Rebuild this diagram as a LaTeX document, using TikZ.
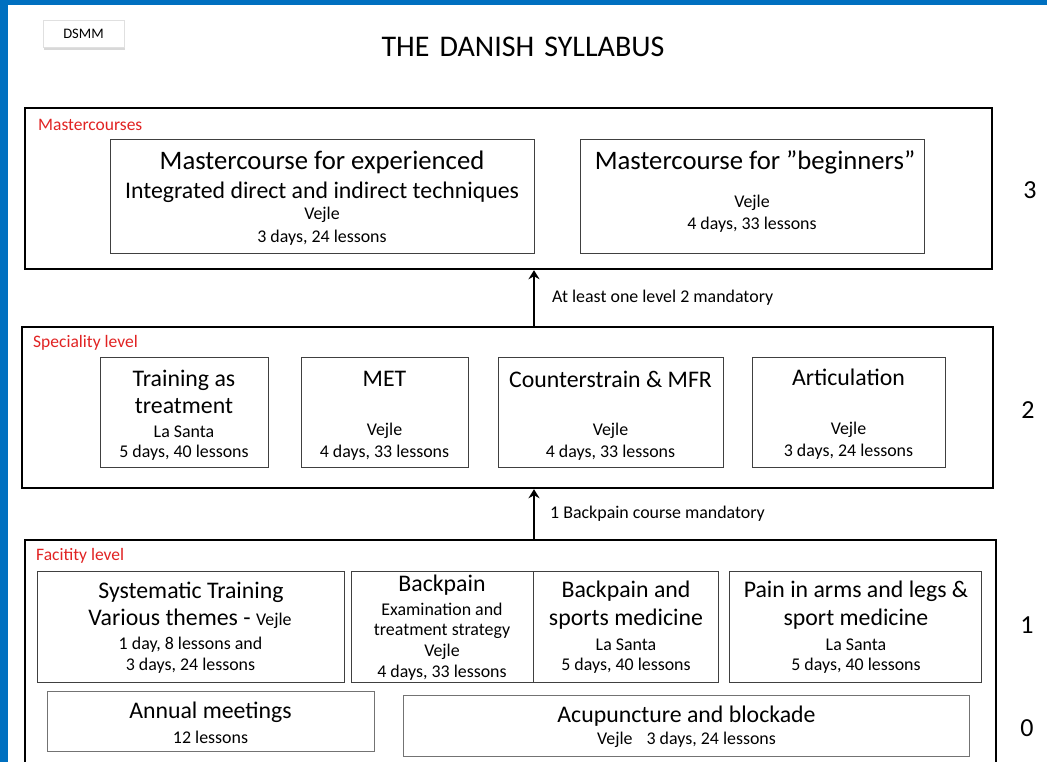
\documentclass[tikz,border=0pt]{standalone}
\usepackage{fontspec}
\setmainfont{Carlito}
\usetikzlibrary{positioning,arrows.meta,shadows}
\definecolor{frameblue}{RGB}{0,112,192}
\definecolor{tagred}{RGB}{225,35,35}
\tikzset{
	level/.style={draw,rectangle,line width=2.4pt,inner sep=0pt},
	course/.style={draw=black!75,rectangle,line width=1pt,inner sep=0pt},
	big/.style={font=\fontsize{26.7}{30}\selectfont,inner sep=0pt},
	mid/.style={font=\fontsize{23.8}{27}\selectfont,inner sep=0pt},
	small/.style={font=\fontsize{17.9}{20}\selectfont,inner sep=0pt},
	tag/.style={text=tagred,font=\fontsize{17.5}{20}\selectfont,anchor=west,inner sep=0pt},
	arr/.style={line width=2.6pt,-{Stealth[length=9pt,width=11pt]}},
}
\newcommand{\smalltext}{\fontsize{17.9}{20}\selectfont}
\begin{document}
\begin{tikzpicture}[x=1pt,y=-1pt]

	\clip (0,0) rectangle (1047,762);
	\fill[white] (0,0) rectangle (1047,762);
	\fill[frameblue] (0,0) rectangle (8,762);
	\fill[frameblue] (0,0) rectangle (1047,5);

	\node (dsmm) at (83.5,33.5) [draw=black!12,fill=white,minimum width=81,minimum height=27,drop shadow={opacity=0.25,fill=black!60,shadow xshift=1pt,shadow yshift=-3pt},font=\fontsize{14.5}{16}\selectfont] {DSMM};
	\node (title) at (523,47) [font=\fontsize{30}{34}\selectfont] {THE\hspace{10pt}DANISH\hspace{10pt}SYLLABUS};

	% level boxes
	\node (l3) at (508.5,188.5) [level,minimum width=967,minimum height=161] {};
	\node (l2) at (507.5,407.5) [level,minimum width=971,minimum height=161] {};
	\node (l1) at (510.5,660) [level,minimum width=971,minimum height=240] {};

	\node (t3) at (38,125) [tag] {Mastercourses};
	\node (t2) at (33,343) [tag] {Speciality level};
	\node (t1) at (36,556) [tag] {Facitity level};

	\begin{scope}[font=\fontsize{26}{29}\selectfont]
		\node (n3) at (1030,190) {3};
		\node (n2) at (1028,410) {2};
		\node (n1) at (1027,625) {1};
		\node (n0) at (1027,728) {0};
	\end{scope}

	% course boxes
	\begin{scope}[every node/.style={course}]
		\node (ma) at (322,197) [minimum width=424,minimum height=114] {};
		\node (mb) at (752,197) [minimum width=344,minimum height=114] {};
		\node (sa) at (184,412) [minimum width=168,minimum height=110] {};
		\node (sb) at (384.5,412) [minimum width=167,minimum height=110] {};
		\node (sc) at (610.5,412) [minimum width=225,minimum height=110] {};
		\node (sd) at (848.5,412) [minimum width=193,minimum height=110] {};
		\node (fa) at (190.5,626.5) [minimum width=307,minimum height=111] {};
		\node (fb) at (442,626.5) [minimum width=182,minimum height=111] {};
		\node (fc) at (625.5,626.5) [minimum width=185,minimum height=111] {};
		\node (fd) at (855,626.5) [minimum width=252,minimum height=111] {};
		\node (za) at (210.5,721) [draw=black!55,minimum width=327,minimum height=60] {};
		\node (zb) at (686,725.5) [draw=black!55,minimum width=566,minimum height=61] {};
	\end{scope}

	% texts
	\node (ma1) at (322,162) [big] {Mastercourse for experienced};
	\node (ma2) at (322,192) [mid] {Integrated direct and indirect techniques};
	\node (ma3) at (322,215) [small] {Vejle};
	\node (ma4) at (322,238) [small] {3 days, 24 lessons};

	\node (mb1) at (755,162) [big] {Mastercourse for ”beginners”};
	\node (mb2) at (752,203) [small] {Vejle};
	\node (mb3) at (752,225) [small] {4 days, 33 lessons};

	\node (sa1) at (184,380) [mid] {Training as};
	\node (sa2) at (184,406) [mid] {treatment};
	\node (sa3) at (184,432) [small] {La Santa};
	\node (sa4) at (184,453) [small] {5 days, 40 lessons};

	\node (sb1) at (384.5,379) [mid] {MET};
	\node (sb2) at (384.5,431) [small] {Vejle};
	\node (sb3) at (384.5,453) [small] {4 days, 33 lessons};

	\node (sc1) at (610.5,379) [mid] {Counterstrain \& MFR};
	\node (sc2) at (610.5,431) [small] {Vejle};
	\node (sc3) at (610.5,453) [small] {4 days, 33 lessons};

	\node (sd1) at (848.5,377) [mid] {Articulation};
	\node (sd2) at (848.5,430) [small] {Vejle};
	\node (sd3) at (848.5,452) [small] {3 days, 24 lessons};

	\node (fa1) at (191,592) [mid] {Systematic Training};
	\node (fa2) at (190,619) [mid] {Various themes - {\smalltext Vejle}};
	\node (fa3) at (190.5,645) [small] {1 day, 8 lessons and};
	\node (fa4) at (190.5,666) [small] {3 days, 24 lessons};

	\node (fb1) at (442,585) [mid] {Backpain};
	\node (fb2) at (442,609) [small] {Examination and};
	\node (fb3) at (442,631) [small] {treatment strategy};
	\node (fb4) at (442,652) [small] {Vejle};
	\node (fb5) at (442,673) [small] {4 days, 33 lessons};

	\node (fc1) at (626,591) [mid] {Backpain and};
	\node (fc2) at (626,619) [mid] {sports medicine};
	\node (fc3) at (626,645) [small] {La Santa};
	\node (fc4) at (626,666) [small] {5 days, 40 lessons};

	\node (fd1) at (856,591) [mid] {Pain in arms and legs \&};
	\node (fd2) at (856,619) [mid] {sport medicine};
	\node (fd3) at (856,645) [small] {La Santa};
	\node (fd4) at (856,666) [small] {5 days, 40 lessons};

	\node (za1) at (210.5,712) [mid] {Annual meetings};
	\node (za2) at (210.5,737) [small] {12 lessons};

	\node (zb1) at (686.5,716) [mid] {Acupuncture and blockade};
	\node (zb2) at (686.5,740) [small] {Vejle\hspace{14pt}3 days, 24 lessons};

	% mandatory arrows
	\coordinate (ax) at (534,0);
	\draw[arr] (l2.north -| ax) -- (l3.south -| ax);
	\draw[arr] (l1.north -| ax) -- (l2.south -| ax);
	\node (m2) at (552,298) [small,anchor=west] {At least one level 2 mandatory};
	\node (m1) at (550,514) [small,anchor=west] {1 Backpain course mandatory};

\end{tikzpicture}
\end{document}
